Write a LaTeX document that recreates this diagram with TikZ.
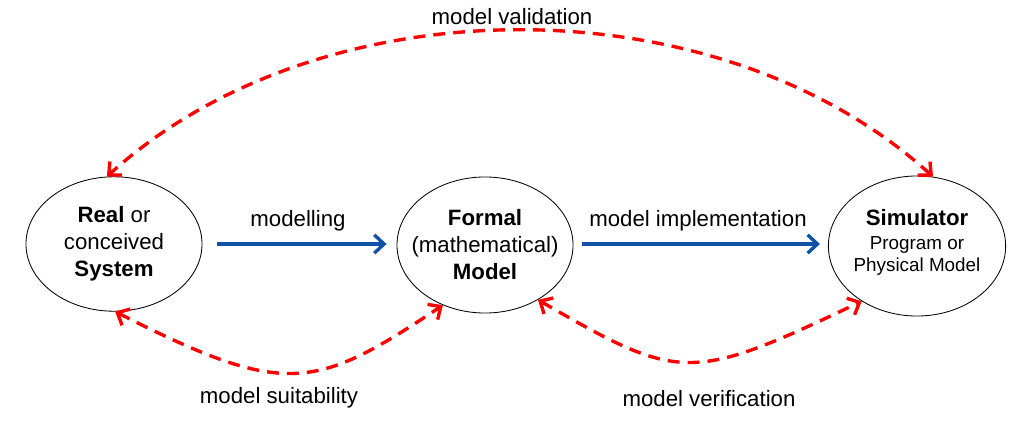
\documentclass[tikz,border=0pt]{standalone}
\usepackage{fontspec}
\setmainfont{Liberation Sans}
\usetikzlibrary{arrows.meta,shapes.geometric}
\definecolor{flowblue}{RGB}{16,82,165}
\definecolor{checkred}{RGB}{255,0,0}
\tikzset{
  stage/.style={ellipse, draw, line width=0.6pt, inner sep=0pt, align=center,
    minimum width=4.4cm, minimum height=3.36cm},
  flow/.style={draw=flowblue, line width=2.4pt, -{Straight Barb[length=7pt,width=13pt]}},
  check/.style={draw=checkred, line width=2.4pt, dash pattern=on 8.5pt off 5.7pt,
    {Straight Barb[length=7pt,width=13pt]}-{Straight Barb[length=7pt,width=13pt]}},
}
\begin{document}
\begin{tikzpicture}[x=0.025cm, y=0.025cm, font=\fontsize{15.8}{19.2}\selectfont]
  \useasboundingbox (0,0) rectangle (1016,422);
  \draw
    (114,178) node[stage] (real){\textbf{Real} or\\conceived\\\textbf{System}}
    (485,177) node[stage, inner xsep=-9pt, minimum height=3.4cm] (formal){\textbf{Formal}\\(mathematical)\\\textbf{Model}}
    (917,176) node[stage, inner xsep=-3pt, minimum width=4.43cm, minimum height=3.5cm] (sim){\textbf{Simulator}\\[-2.2pt]{\fontsize{13.4}{15.7}\selectfont Program or}\\[-3.5pt]{\fontsize{13.4}{15.7}\selectfont Physical Model}\\[-12pt]\mbox{}};
  % labels
  \node (modelling) at (298,201) {modelling};
  \node (implementation) at (698,201) {model implementation};
  \node (validation) at (512,405) {model validation};
  \node (suitability) at (279,24) {model suitability};
  \node (verification) at (709,23) {model verification};
  % forward steps
  \draw[flow, shorten <=10.7pt, shorten >=7.1pt] (real.east) -- (real.east -| formal.west);
  \draw[flow, shorten <=6.4pt, shorten >=5.7pt] (real.east -| formal.east) -- (real.east -| sim.west);
  % checks
  \draw[check] (sim.77) .. controls +(-215,195) and +(215,195) .. (real.96);
  \draw[check] (real.271) .. controls +(170,-86) and +(-129,-86) .. (formal.235);
  \draw[check] (formal.314) .. controls +(142,-82) and +(-172,-82) .. (sim.225);
\end{tikzpicture}
\end{document}
